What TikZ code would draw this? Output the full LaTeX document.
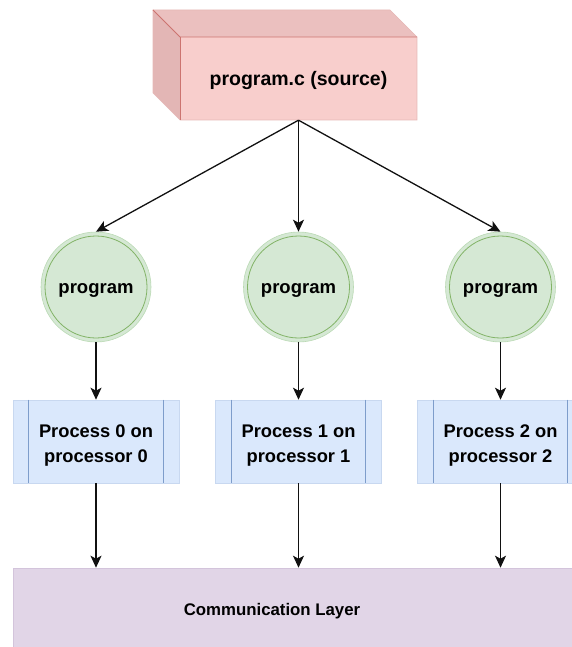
\documentclass[tikz,border=0pt]{standalone}
\usepackage{fontspec}
\setmainfont{Liberation Sans}
\usetikzlibrary{arrows.meta,calc}
\definecolor{srcfront}{HTML}{F8CECC}
\definecolor{srctop}{HTML}{EBC0BF}
\definecolor{srcside}{HTML}{E3B6B5}
\definecolor{srcedge}{HTML}{CC7470}
\definecolor{srcout}{HTML}{E6B8B6}
\definecolor{progfill}{HTML}{D5E8D4}
\definecolor{progring}{HTML}{82B366}
\definecolor{progout}{HTML}{BBDAB5}
\definecolor{procfill}{HTML}{DAE8FC}
\definecolor{procline}{HTML}{7E9DCB}
\definecolor{procout}{HTML}{C8D8F0}
\definecolor{commfill}{HTML}{E1D5E7}
\definecolor{commout}{HTML}{D3C4DB}
\definecolor{wire}{HTML}{111111}
\begin{document}
\begin{tikzpicture}[x=1pt,y=-1pt,
  flow/.style={draw=wire, line width=1.3pt, -{Stealth[length=12pt,width=11pt,inset=3pt]}},
  progcircle/.style={circle, minimum size=110pt, inner sep=0pt, fill=progfill, draw=progout, line width=0.6pt},
  progtext/.style={font=\bfseries\fontsize{18.5}{22}\selectfont, inner sep=0pt},
  procbox/.style={rectangle, minimum width=166pt, minimum height=83pt, inner sep=0pt, fill=procfill,
    draw=procout, line width=0.6pt},
  proctext/.style={align=center, inner sep=0pt, font=\bfseries\fontsize{18.3}{25}\selectfont},
  innerring/.style={draw=progring, line width=0.8pt},
  sideline/.style={draw=procline, line width=0.8pt},
]
\useasboundingbox (0,0) rectangle (572,647);
\clip (0,0) rectangle (572,647);

% source file drawn as a cube
\fill[srctop] (153,10) -- (390,10) -- (417,37) -- (180,37) -- cycle;
\fill[srcside] (153,10) -- (180,37) -- (180,120) -- (153,93) -- cycle;
\node[rectangle, minimum width=237pt, minimum height=83pt, inner sep=0pt, fill=srcfront] (src) at (298.5,78.5) {};
\node[font=\bfseries\fontsize{19.5}{22}\selectfont, inner sep=0pt] (srctext) at (298.5,81) {program.c (source)};
\draw[srcout, line width=0.6pt] (153,10) -- (390,10) -- (417,37) -- (417,120) -- (180,120) -- (153,93) -- cycle;
\draw[srcedge, line width=0.8pt] (153,10) -- (180,37) -- (417,37);
\draw[srcedge, line width=0.8pt] (180,37) -- (180,120);

% program copies
\foreach \i/\x in {0/96,1/298.5,2/500.5} {
  \node[progcircle] (p\i) at (\x,287) {};
  \draw[innerring] (p\i.center) circle[radius=51pt];
  \node[progtext] (pt\i) at (\x,290.5) {program};
}

% processes
\foreach \i/\x in {0/96,1/298.5,2/500.5} {
  \node[procbox] (b\i) at (\x,441.5) {};
  \draw[sideline] ([xshift=16pt]b\i.north west) -- ([xshift=16pt]b\i.south west);
  \draw[sideline] ([xshift=-16pt]b\i.north east) -- ([xshift=-16pt]b\i.south east);
  \node[proctext] (bt\i) at (\x,446) {Process \i{} on\\processor \i};
}

% communication layer
\node[rectangle, minimum width=572pt, minimum height=112pt, inner sep=0pt, fill=commfill,
  draw=commout, line width=0.6pt] (comm) at (299,624) {};
\node[font=\bfseries\fontsize{16.8}{20}\selectfont, inner sep=0pt] (commtext) at (272,611) {Communication Layer};

% connectors
\draw[flow] (src.south) -- (p0.north);
\draw[flow] (src.south) -- (p1.north);
\draw[flow] (src.south) -- (p2.north);
\foreach \i in {0,1,2} {
  \draw[flow] (p\i.south) -- (b\i.north);
  \draw[flow] (b\i.south) -- (b\i.south |- comm.north);
}
\end{tikzpicture}
\end{document}
